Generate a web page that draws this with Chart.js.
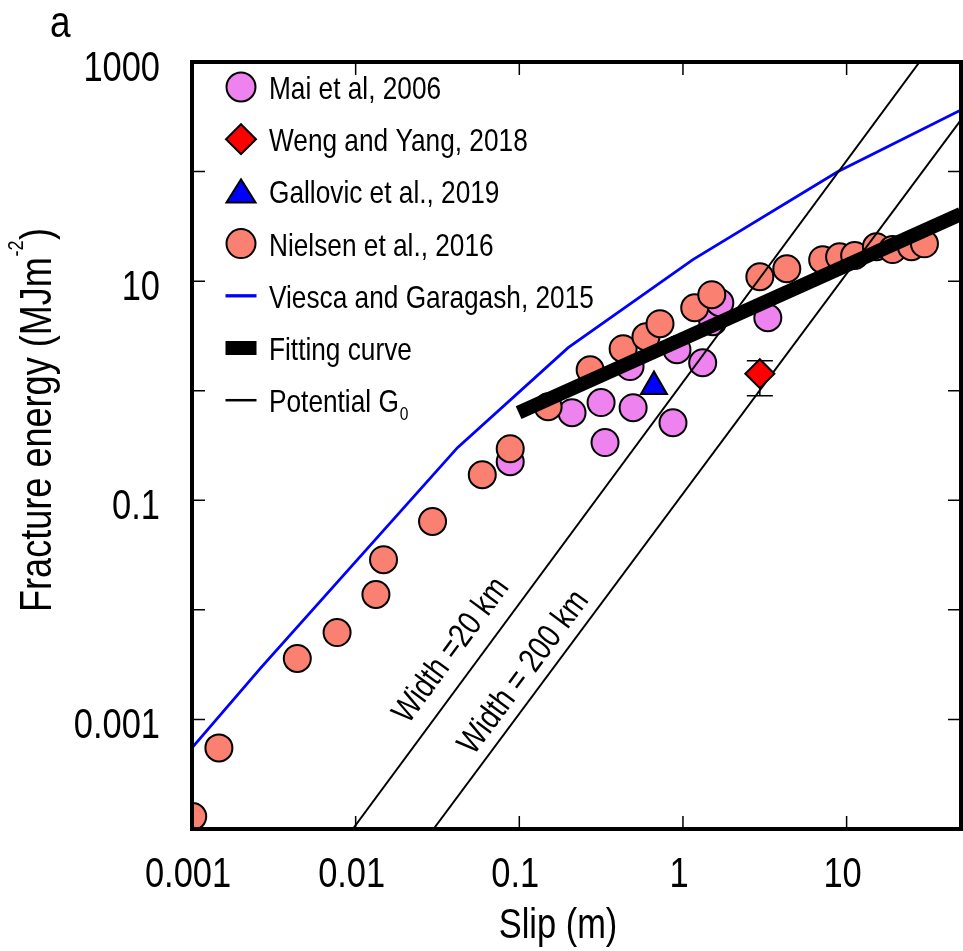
<!DOCTYPE html>
<html>
<head>
<meta charset="utf-8">
<title>Fracture energy vs slip</title>
<style>
  html, body { margin: 0; padding: 0; background: #ffffff; overflow: hidden; }
  #wrap { width: 963px; height: 951px; }
  #chart { display: block; }
</style>
<script src="https://cdn.jsdelivr.net/npm/chart.js@4.4.1/dist/chart.umd.min.js"></script>
</head>
<body>
<div id="wrap"><canvas id="chart" width="963" height="951"></canvas></div>
<script>
// ---- data: slip (m) and fracture energy (MJ/m^2) ----

// Mai et al., 2006
const maiSlip   = [0.088, 0.21, 0.316, 0.334, 0.496, 0.475, 0.869, 0.919, 1.32, 1.52, 1.68, 3.30];
const maiEnergy = [0.225, 0.63, 0.78, 0.336, 0.70, 1.66, 0.51, 2.37, 1.80, 4.26, 6.35, 4.63];

// Weng and Yang, 2018 (with lower / upper bound)
const wengSlip   = [2.95];
const wengEnergy = [1.43];
const wengLow    = [0.90];
const wengHigh   = [1.88];

// Gallovic et al., 2019
const gallovicSlip   = [0.665];
const gallovicEnergy = [1.09];

// Nielsen et al., 2016
const nielsenSlip   = [0.00101, 0.00146, 0.0044, 0.0077, 0.0133, 0.0148, 0.0295, 0.0594, 0.088,
                       0.150, 0.271, 0.431, 0.594, 0.724, 1.18, 1.50, 2.95, 4.31,
                       7.14, 9.06, 11.2, 15.2, 19.1, 24.9, 29.9];
const nielsenEnergy = [1.3e-4, 5.5e-4, 0.0036, 0.0062, 0.0138, 0.0287, 0.064, 0.171, 0.296,
                       0.714, 1.55, 2.42, 3.11, 4.09, 5.72, 7.52, 10.96, 12.97,
                       15.7, 16.7, 17.1, 20.6, 19.4, 20.6, 21.9];

// Viesca and Garagash, 2015
const viescaSlip   = [0.001, 0.00264, 0.0419, 0.199, 1.15, 8.81, 50];
const viescaEnergy = [5.5e-4, 0.00297, 0.302, 2.47, 15.7, 99.6, 365];

// Fitting curve
const fitSlip   = [0.099, 50];
const fitEnergy = [0.63, 41];

// Potential G0 for two fault widths
const g0w20Slip    = [0.0096, 27.9];
const g0w20Energy  = [1e-4, 1000];
const g0w200Slip   = [0.0299, 50];
const g0w200Energy = [1e-4, 297];

// Labels along the G0 lines (anchor point of each label)
const widthLabels      = ['Width =20 km', 'Width = 200 km'];
const widthLabelSlip   = [0.0385, 0.107];
const widthLabelEnergy = [0.00424, 0.00267];

// Axes
const xTicks    = [0.001, 0.01, 0.1, 1, 10];
const yTicks    = [1e-4, 1e-3, 1e-2, 0.1, 1, 10, 100, 1000];
const yLabelled = [1000, 10, 0.1, 0.001];

// Condensed sans: Liberation Sans squeezed horizontally
const FONT = "'Liberation Sans', Arial, sans-serif";
const SQUEEZE = 0.82;

function narrowText(ctx, text, x, y, size, align, baseline) {
  ctx.save();
  ctx.translate(x, y);
  ctx.scale(SQUEEZE, 1);
  ctx.font = size + 'px ' + FONT;
  ctx.textAlign = align || 'left';
  ctx.textBaseline = baseline || 'alphabetic';
  ctx.fillText(text, 0, 0);
  ctx.restore();
}
function narrowWidth(ctx, text, size) {
  ctx.save();
  ctx.font = size + 'px ' + FONT;
  const w = ctx.measureText(text).width * SQUEEZE;
  ctx.restore();
  return w;
}

const pts = (xs, ys) => xs.map((x, i) => ({ x: x, y: ys[i] }));

const datasets = [
  { label: 'Fitting curve', legendKind: 'bar', legendIndex: 5,
    data: pts(fitSlip, fitEnergy), showLine: true, borderColor: '#000000', borderWidth: 14,
    borderCapStyle: 'butt', pointRadius: 0, order: 0, clip: 0 },
  { label: 'Gallovic et al., 2019', legendKind: 'point', legendIndex: 2,
    data: pts(gallovicSlip, gallovicEnergy), pointStyle: 'triangle', pointRadius: 15,
    backgroundColor: '#0000FF', borderColor: '#000000', borderWidth: 2, order: 1, clip: 0 },
  { label: 'Weng and Yang, 2018', legendKind: 'point', legendIndex: 1,
    data: pts(wengSlip, wengEnergy), pointStyle: 'rectRot', pointRadius: 14.5,
    backgroundColor: '#FF0000', borderColor: '#000000', borderWidth: 2, order: 2, clip: 0 },
  { label: 'Potential G', labelSub: '0', legendKind: 'line', legendIndex: 6,
    data: pts(g0w20Slip, g0w20Energy), showLine: true, borderColor: '#000000', borderWidth: 2,
    pointRadius: 0, order: 3, clip: 0 },
  { label: 'Potential G', labelSub: '0', legendKind: 'none',
    data: pts(g0w200Slip, g0w200Energy), showLine: true, borderColor: '#000000', borderWidth: 2,
    pointRadius: 0, order: 3, clip: 0 },
  { label: 'Nielsen et al., 2016', legendKind: 'point', legendIndex: 3,
    data: pts(nielsenSlip, nielsenEnergy), pointStyle: 'circle', pointRadius: 13.5,
    backgroundColor: '#FA8072', borderColor: '#000000', borderWidth: 2, order: 4, clip: 0 },
  { label: 'Mai et al, 2006', legendKind: 'point', legendIndex: 0,
    data: pts(maiSlip, maiEnergy), pointStyle: 'circle', pointRadius: 13.5,
    backgroundColor: '#EE82EE', borderColor: '#000000', borderWidth: 2, order: 5, clip: 0 },
  { label: 'Viesca and Garagash, 2015', legendKind: 'line', legendIndex: 4,
    data: pts(viescaSlip, viescaEnergy), showLine: true, borderColor: '#0000FF', borderWidth: 2.8,
    pointRadius: 0, order: 6, clip: 0 }
];

// Error bar under the Weng and Yang marker
function drawErrorBars(chart) {
  const ctx = chart.ctx, xs = chart.scales.x, ys = chart.scales.y;
  ctx.save();
  ctx.strokeStyle = '#000000';
  ctx.lineWidth = 1.5;
  wengSlip.forEach((s, i) => {
    const px = xs.getPixelForValue(s);
    const pLo = ys.getPixelForValue(wengLow[i]);
    const pHi = ys.getPixelForValue(wengHigh[i]);
    ctx.beginPath();
    ctx.moveTo(px, pLo); ctx.lineTo(px, pHi);
    ctx.moveTo(px - 13, pLo); ctx.lineTo(px + 13, pLo);
    ctx.moveTo(px - 13, pHi); ctx.lineTo(px + 13, pHi);
    ctx.stroke();
  });
  ctx.restore();
}

// Rotated labels along the two G0 lines
function drawWidthLabels(chart) {
  const ctx = chart.ctx, xs = chart.scales.x, ys = chart.scales.y;
  const lines = [[g0w20Slip, g0w20Energy], [g0w200Slip, g0w200Energy]];
  ctx.save();
  ctx.fillStyle = '#000000';
  widthLabels.forEach((txt, i) => {
    const [lx, ly] = lines[i];
    const x0 = xs.getPixelForValue(lx[0]), y0 = ys.getPixelForValue(ly[0]);
    const x1 = xs.getPixelForValue(lx[1]), y1 = ys.getPixelForValue(ly[1]);
    const ang = Math.atan2(y1 - y0, x1 - x0);
    ctx.save();
    ctx.translate(xs.getPixelForValue(widthLabelSlip[i]), ys.getPixelForValue(widthLabelEnergy[i]));
    ctx.rotate(ang);
    narrowText(ctx, txt, 0, 0, 34, 'center', 'middle');
    ctx.restore();
  });
  ctx.restore();
}

function drawFrameAndTicks(chart) {
  const ctx = chart.ctx, a = chart.chartArea, xs = chart.scales.x, ys = chart.scales.y;
  const tl = 13;
  ctx.save();
  ctx.strokeStyle = '#000000';
  ctx.lineWidth = 1.5;
  ctx.beginPath();
  xTicks.forEach(v => {
    const p = xs.getPixelForValue(v);
    if (p <= a.left + 2 || p >= a.right - 2) return;
    ctx.moveTo(p, a.bottom); ctx.lineTo(p, a.bottom - tl);
    ctx.moveTo(p, a.top); ctx.lineTo(p, a.top + tl);
  });
  yTicks.forEach(v => {
    const p = ys.getPixelForValue(v);
    if (p <= a.top + 2 || p >= a.bottom - 2) return;
    ctx.moveTo(a.left, p); ctx.lineTo(a.left + tl, p);
    ctx.moveTo(a.right, p); ctx.lineTo(a.right - tl, p);
  });
  ctx.stroke();
  ctx.lineWidth = 4;
  ctx.strokeRect(a.left, a.top, a.right - a.left, a.bottom - a.top);

  // tick labels
  ctx.fillStyle = '#000000';
  xTicks.forEach(v => {
    narrowText(ctx, String(v), xs.getPixelForValue(v) - 4, a.bottom + 58, 42, 'center');
  });
  yTicks.forEach(v => {
    if (!yLabelled.some(l => Math.abs(Math.log10(v) - Math.log10(l)) < 1e-6)) return;
    narrowText(ctx, String(v), a.left - 32, ys.getPixelForValue(v) + 19, 42, 'right');
  });
  ctx.restore();
}

function drawLegend(chart) {
  const ctx = chart.ctx;
  const rowY0 = 87, rowStep = 52.2, markX = 241, textX = 269;
  const entries = chart.data.datasets
    .filter(d => d.legendKind !== 'none')
    .sort((p, q) => p.legendIndex - q.legendIndex);
  ctx.save();
  entries.forEach((d, i) => {
    const y = rowY0 + i * rowStep;
    ctx.lineWidth = 2;
    ctx.strokeStyle = '#000000';
    if (d.legendKind === 'point') {
      ctx.fillStyle = d.backgroundColor;
      ctx.beginPath();
      if (d.pointStyle === 'circle') {
        ctx.arc(markX, y, 14.5, 0, Math.PI * 2);
      } else if (d.pointStyle === 'rectRot') {
        const r = 15;
        ctx.moveTo(markX, y - r); ctx.lineTo(markX + r, y);
        ctx.lineTo(markX, y + r); ctx.lineTo(markX - r, y); ctx.closePath();
      } else if (d.pointStyle === 'triangle') {
        ctx.moveTo(markX, y - 12); ctx.lineTo(markX + 14.5, y + 11);
        ctx.lineTo(markX - 14.5, y + 11); ctx.closePath();
      }
      ctx.fill();
      ctx.stroke();
    } else if (d.legendKind === 'line') {
      ctx.strokeStyle = d.borderColor;
      ctx.lineWidth = Math.max(2, d.borderWidth + 0.5);
      ctx.beginPath();
      ctx.moveTo(markX - 15.5, y); ctx.lineTo(markX + 15.5, y);
      ctx.stroke();
    } else if (d.legendKind === 'bar') {
      ctx.fillStyle = d.borderColor;
      ctx.fillRect(markX - 15.5, y - 7, 31, 14);
    }
    ctx.fillStyle = '#000000';
    const base = y + 12;
    narrowText(ctx, d.label, textX, base, 32, 'left');
    if (d.labelSub) {
      const w = narrowWidth(ctx, d.label, 32);
      narrowText(ctx, d.labelSub, textX + w + 1, base + 8, 19, 'left');
    }
  });
  ctx.restore();
}

function drawTitles(chart) {
  const ctx = chart.ctx;
  ctx.save();
  ctx.fillStyle = '#000000';
  // panel letter
  narrowText(ctx, 'a', 50, 37, 45, 'left');
  // x axis title
  narrowText(ctx, 'Slip (m)', 558, 938, 42, 'center');
  // y axis title with superscript
  const mainS = 44, supS = 22;
  const p1 = 'Fracture energy (MJm', sup = '-2', p2 = ')';
  const w1 = narrowWidth(ctx, p1, mainS), w2 = narrowWidth(ctx, sup, supS), w3 = narrowWidth(ctx, p2, mainS);
  const total = w1 + w2 + w3 + 1;
  ctx.translate(51, 420);
  ctx.rotate(-Math.PI / 2);
  let u = -total / 2;
  narrowText(ctx, p1, u, 0, mainS, 'left'); u += w1;
  narrowText(ctx, sup, u + 0.5, -28, supS, 'left'); u += w2 + 1;
  narrowText(ctx, p2, u, 0, mainS, 'left');
  ctx.restore();
}

const decorPlugin = {
  id: 'decor',
  beforeDatasetsDraw(chart) { drawErrorBars(chart); },
  afterDatasetsDraw(chart) { drawWidthLabels(chart); },
  afterDraw(chart) {
    drawFrameAndTicks(chart);
    drawLegend(chart);
    drawTitles(chart);
  }
};

new Chart(document.getElementById('chart'), {
  type: 'scatter',
  data: { datasets: datasets },
  options: {
    responsive: false,
    animation: false,
    events: [],
    devicePixelRatio: 1,
    layout: { autoPadding: false, padding: { top: 62, right: 2, left: 0, bottom: 0 } },
    plugins: { legend: { display: false }, tooltip: { enabled: false } },
    scales: {
      x: {
        type: 'logarithmic', position: 'bottom', min: 0.001, max: 50,
        afterBuildTicks: s => { s.ticks = xTicks.map(v => ({ value: v })); },
        afterFit: s => { s.height = 122; },
        grid: { display: false, drawTicks: false },
        border: { display: false },
        ticks: { display: false }
      },
      y: {
        type: 'logarithmic', position: 'left', min: 1e-4, max: 1000,
        afterBuildTicks: s => { s.ticks = yTicks.map(v => ({ value: v })); },
        afterFit: s => { s.width = 192; },
        grid: { display: false, drawTicks: false },
        border: { display: false },
        ticks: { display: false }
      }
    }
  },
  plugins: [decorPlugin]
});
</script>
</body>
</html>
